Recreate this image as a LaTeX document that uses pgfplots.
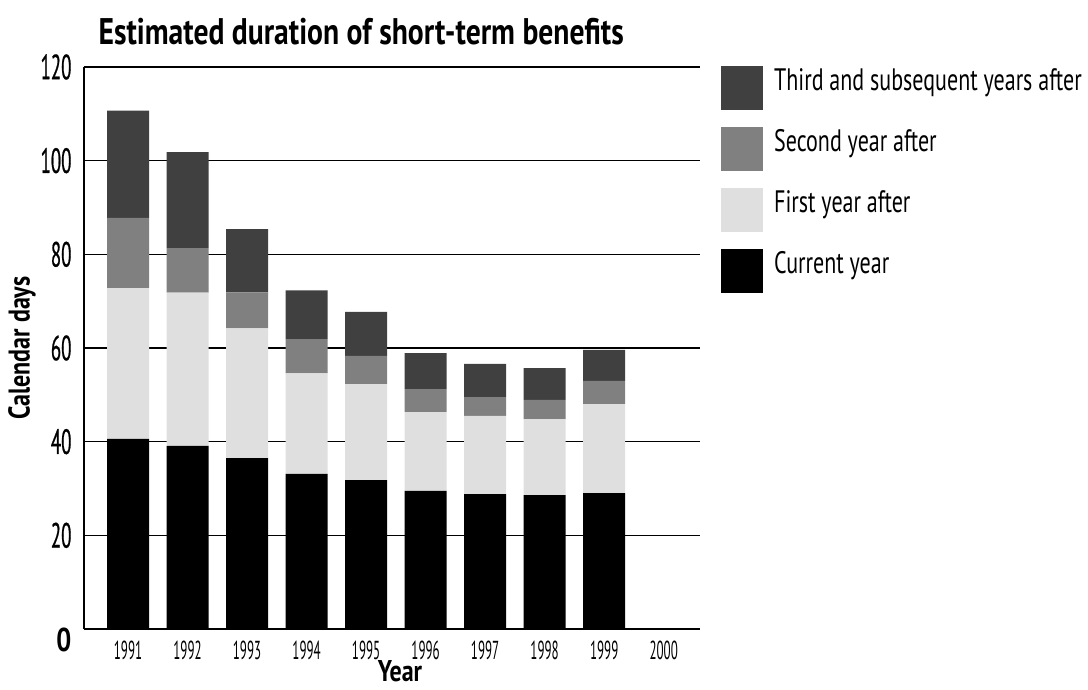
\documentclass[border=0pt]{standalone}
\usepackage{fontspec}
\setmainfont[FakeStretch=0.71, BoldFeatures={FakeStretch=0.80}]{PT Sans}
\newfontfamily\tickfont[FakeStretch=0.50]{PT Sans}
\newfontfamily\ytickfont[FakeStretch=0.54, FakeBold=0.6]{PT Sans}
\usepackage{pgfplots}
\pgfplotsset{compat=1.18}
\definecolor{cdark}{HTML}{404040}
\definecolor{cmid}{HTML}{808080}
\definecolor{clight}{HTML}{DFDFDF}
\pgfplotstableread{
x cur first second third
0 40.6 32.2 15.0 22.9
1 39.1 32.7 9.5 20.5
2 36.5 27.7 7.7 13.5
3 33.1 21.5 7.3 10.4
4 31.8 20.5 6.0 9.4
5 29.5 16.8 4.9 7.7
6 28.8 16.7 4.0 7.1
7 28.6 16.2 4.1 6.8
8 29.0 19.0 5.0 6.6
}\datatable
\begin{document}
\begin{tikzpicture}
\begin{axis}[
  scale only axis, width=616pt, height=562pt,
  ybar stacked, bar width=42pt,
  xmin=-0.74, xmax=9.61, ymin=0, ymax=120,
  axis x line=bottom, axis y line=left,
  axis line style={-, line width=2pt},
  xtick={0,...,9}, xticklabels={1991,1992,1993,1994,1995,1996,1997,1998,1999,2000},
  ytick={0,20,...,120}, yticklabels={\smash{\raisebox{-23pt}{\normalfont\bfseries\fontsize{33}{34}\selectfont 0}},20,40,60,80,100,120},
  /pgf/number format/assume math mode=true,
  major tick length=0pt,
  xticklabel style={font=\tickfont\fontsize{26}{28}\selectfont, yshift=-8pt},
  yticklabel style={font=\ytickfont\fontsize{35}{36}\selectfont, xshift=-9pt},
  ymajorgrids, major grid style={black, line width=1.2pt},
  xlabel={\textbf{Year}}, ylabel={\textbf{Calendar days}},
  xlabel style={font=\fontsize{30}{32}\selectfont, at={(axis description cs:0.513,0)}, anchor=base, yshift=-53pt, inner sep=1pt},
  ylabel style={font=\fontsize{30}{32}\selectfont, yshift=-2pt},
  title={\textbf{Estimated duration of short-term benefits}},
  title style={font=\fontsize{37}{40}\selectfont, at={(axis description cs:0.45,1)}, anchor=south, yshift=12pt},
  legend reversed,
  legend cell align=left,
  legend style={at={(1.034,1.002)}, anchor=north west, draw=none, fill=none,
    font=\fontsize{31}{34}\selectfont, row sep=17pt, inner sep=0pt,
    /tikz/every odd column/.append style={column sep=9pt}},
  every axis plot post/.append style={draw=none,
    legend image code/.code={\fill[##1] (0pt,-30pt) rectangle (42pt,14pt);}},
]
\addplot[fill=black] table[x=x, y=cur] {\datatable};
\addplot[fill=clight] table[x=x, y=first] {\datatable};
\addplot[fill=cmid] table[x=x, y=second] {\datatable};
\addplot[fill=cdark] table[x=x, y=third] {\datatable};
\legend{Current year, First year after, Second year after, Third and subsequent years after}
\end{axis}
\pgfresetboundingbox
\path (current axis.south west) ++(-84pt,-61pt) rectangle ++(1088pt,690pt);
\end{tikzpicture}
\end{document}
